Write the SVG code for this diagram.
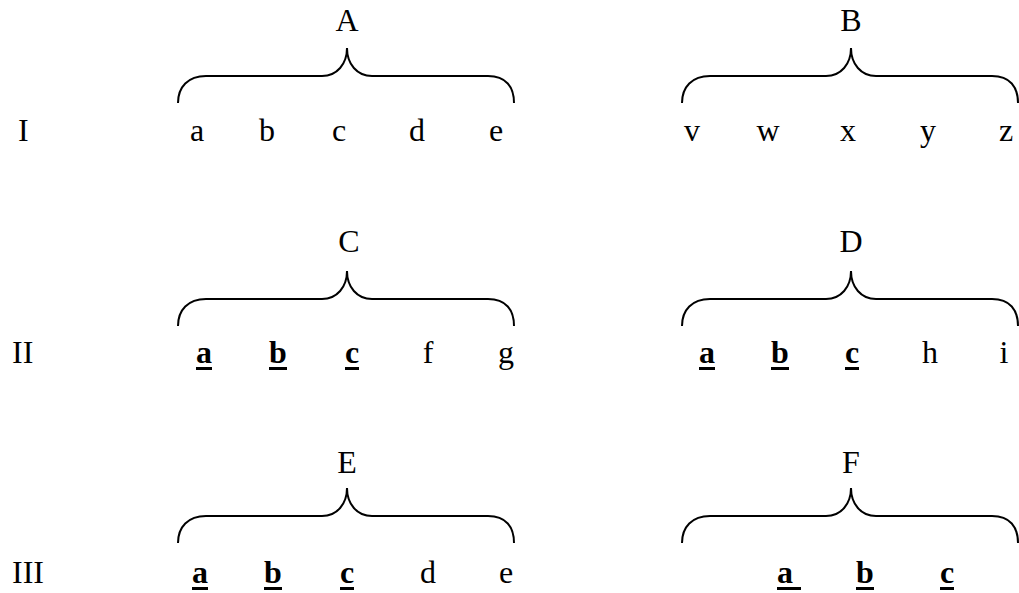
<svg xmlns="http://www.w3.org/2000/svg" xmlns:xlink="http://www.w3.org/1999/xlink" width="1019" height="593" viewBox="0 0 1019 593">
<style>
text{font-family:"Liberation Serif","Times New Roman",serif;font-size:32px;fill:#000}
.m{text-anchor:middle}
.u{font-weight:bold}
.ul{fill:#000}
.brace{fill:none;stroke:#000;stroke-width:2}
</style>
<defs>
<path id="br" class="brace" d="M-169,55 C-169,39 -159,28 -141,28 L-25,28 C-10,28 0,16 0,0 C0,16 10,28 25,28 L141,28 C159,28 167,39 167,55"/>
</defs>
<rect width="1019" height="593" fill="#fff"/>
<g id="connectors">
<use xlink:href="#br" href="#br" transform="translate(347,48)"/>
<use xlink:href="#br" href="#br" transform="translate(851,48)"/>
<use xlink:href="#br" href="#br" transform="translate(347,271)"/>
<use xlink:href="#br" href="#br" transform="translate(851,271)"/>
<use xlink:href="#br" href="#br" transform="translate(347,488)"/>
<use xlink:href="#br" href="#br" transform="translate(851,488)"/>
</g>
<g id="rowlabels">
<text x="18" y="141">I</text>
<text x="12" y="363">II</text>
<text x="12" y="583">III</text>
</g>
<g id="A">
<text class="m" x="347" y="31">A</text>
<text class="m" x="197" y="141">a</text>
<text class="m" x="267" y="141">b</text>
<text class="m" x="339" y="141">c</text>
<text class="m" x="417" y="141">d</text>
<text class="m" x="496" y="141">e</text>
</g>
<g id="B">
<text class="m" x="851" y="31">B</text>
<text class="m" x="692" y="141">v</text>
<text class="m" x="768" y="141">w</text>
<text class="m" x="848" y="141">x</text>
<text class="m" x="928" y="141">y</text>
<text class="m" x="1006" y="141">z</text>
</g>
<g id="C">
<text class="m" x="349" y="252">C</text>
<text class="m u" x="204" y="363">a</text>
<text class="m u" x="278" y="363">b</text>
<text class="m u" x="352" y="363">c</text>
<rect class="ul" x="196" y="367" width="16" height="3"/>
<rect class="ul" x="269" y="367" width="18" height="3"/>
<rect class="ul" x="345" y="367" width="14" height="3"/>
<text class="m" x="428" y="363">f</text>
<text class="m" x="506" y="363">g</text>
</g>
<g id="D">
<text class="m" x="851" y="252">D</text>
<text class="m u" x="707" y="363">a</text>
<text class="m u" x="780" y="363">b</text>
<text class="m u" x="852" y="363">c</text>
<rect class="ul" x="699" y="367" width="16" height="3"/>
<rect class="ul" x="771" y="367" width="18" height="3"/>
<rect class="ul" x="845" y="367" width="14" height="3"/>
<text class="m" x="930" y="363">h</text>
<text class="m" x="1004" y="363">i</text>
</g>
<g id="E">
<text class="m" x="347" y="473">E</text>
<text class="m u" x="200" y="583">a</text>
<text class="m u" x="273" y="583">b</text>
<text class="m u" x="347" y="583">c</text>
<rect class="ul" x="192" y="587" width="16" height="3"/>
<rect class="ul" x="264" y="587" width="18" height="3"/>
<rect class="ul" x="340" y="587" width="14" height="3"/>
<text class="m" x="428" y="583">d</text>
<text class="m" x="506" y="583">e</text>
</g>
<g id="F">
<text class="m" x="851" y="473">F</text>
<text class="u" x="777" y="583" style="white-space:pre">a </text>
<text class="m u" x="865" y="583">b</text>
<text class="m u" x="947" y="583">c</text>
<rect class="ul" x="777" y="587" width="24" height="3"/>
<rect class="ul" x="856" y="587" width="18" height="3"/>
<rect class="ul" x="940" y="587" width="14" height="3"/>
</g>
</svg>
